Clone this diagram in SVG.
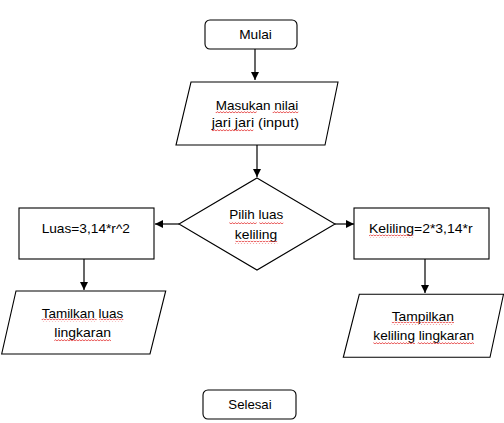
<svg xmlns="http://www.w3.org/2000/svg" width="504" height="423" viewBox="0 0 504 423">
<style>
.shape{fill:#fff;stroke:#000;stroke-width:1.1}
.conn{stroke:#000;stroke-width:1.2;fill:none}
text{font-family:"Liberation Sans",Arial,sans-serif;font-size:13px;fill:#000;text-anchor:middle}
.sq{fill:url(#squig)}
</style>
<defs>
<marker id="ah" viewBox="0 0 8 8" refX="8" refY="4" markerWidth="8" markerHeight="8" markerUnits="userSpaceOnUse" orient="auto">
<path d="M0,0 L8,4 L0,8 Z" fill="#000"/>
</marker>
<pattern id="squig" width="3" height="3" patternUnits="userSpaceOnUse">
<path d="M0,2.2 L1.5,0.6 L3,2.2" stroke="#e02020" stroke-width="0.8" fill="none"/>
</pattern>
</defs>
<rect width="504" height="423" fill="#fff"/>
<g id="connectors">
<line class="conn" x1="255" y1="49" x2="255" y2="80" marker-end="url(#ah)"/>
<line class="conn" x1="257" y1="145" x2="257" y2="177" marker-end="url(#ah)"/>
<line class="conn" x1="179" y1="224" x2="155" y2="224" marker-end="url(#ah)"/>
<line class="conn" x1="335" y1="224" x2="354" y2="224" marker-end="url(#ah)"/>
<line class="conn" x1="84" y1="259" x2="84" y2="290" marker-end="url(#ah)"/>
<line class="conn" x1="425" y1="259" x2="425" y2="293" marker-end="url(#ah)"/>
</g>
<g id="mulai">
<rect class="shape" x="205" y="20" width="92" height="29" rx="5"/>
<text x="255.5" y="39" textLength="32.7" lengthAdjust="spacingAndGlyphs">Mulai</text>
</g>
<g id="input">
<polygon class="shape" points="191,82 338,82 325,145 176,145"/>
<text x="257" y="109.5" textLength="82.6" lengthAdjust="spacingAndGlyphs">Masukan nilai</text>
<text x="255.3" y="127" textLength="87.3" lengthAdjust="spacingAndGlyphs">jari jari (input)</text>
<rect class="sq" x="215.7" y="110.5" width="41" height="3"/>
<rect class="sq" x="272.7" y="110.5" width="25.6" height="3"/>
<rect class="sq" x="211.7" y="129" width="41.6" height="3"/>
</g>
<g id="decision">
<polygon class="shape" points="257,178 335,224 257,270 179,224"/>
<text x="256.3" y="219" textLength="54" lengthAdjust="spacingAndGlyphs">Pilih luas</text>
<text x="256" y="239" textLength="42.3" lengthAdjust="spacingAndGlyphs">keliling</text>
<rect class="sq" x="229.3" y="221" width="27.4" height="3"/>
<rect class="sq" x="259.3" y="221" width="24" height="3"/>
<rect class="sq" x="235" y="240.8" width="42.3" height="3"/>
</g>
<g id="luas">
<rect class="shape" x="19" y="208" width="135" height="51"/>
<text x="85.8" y="233" textLength="88.3" lengthAdjust="spacingAndGlyphs">Luas=3,14*r^2</text>
</g>
<g id="keliling">
<rect class="shape" x="354" y="208" width="135" height="51"/>
<text x="420.8" y="233" textLength="103.7" lengthAdjust="spacingAndGlyphs">Keliling=2*3,14*r</text>
<rect class="sq" x="369" y="234.5" width="44.3" height="3"/>
</g>
<g id="tampil-luas">
<polygon class="shape" points="16,291 165.7,291 150,354 1.7,354"/>
<text x="82.5" y="317.5" textLength="81.6" lengthAdjust="spacingAndGlyphs">Tamilkan luas</text>
<text x="82.7" y="336.5" textLength="56.7" lengthAdjust="spacingAndGlyphs">lingkaran</text>
<rect class="sq" x="41.7" y="318.5" width="55" height="3"/>
<rect class="sq" x="99.3" y="318.5" width="24" height="3"/>
<rect class="sq" x="54.3" y="338.5" width="56.7" height="3"/>
</g>
<g id="tampil-keliling">
<polygon class="shape" points="359.3,294.3 503.5,294.3 490,357.3 343.3,357.3"/>
<text x="422.8" y="320.5" textLength="62.3" lengthAdjust="spacingAndGlyphs">Tampilkan</text>
<text x="423.7" y="340" textLength="100.7" lengthAdjust="spacingAndGlyphs">keliling lingkaran</text>
<rect class="sq" x="391.7" y="321.8" width="62.3" height="3"/>
<rect class="sq" x="373.3" y="341.3" width="41.7" height="3"/>
<rect class="sq" x="417.7" y="341.3" width="56.3" height="3"/>
</g>
<g id="selesai">
<rect class="shape" x="203" y="390" width="93" height="29" rx="5"/>
<text x="250" y="409" textLength="43.3" lengthAdjust="spacingAndGlyphs">Selesai</text>
</g>
</svg>
